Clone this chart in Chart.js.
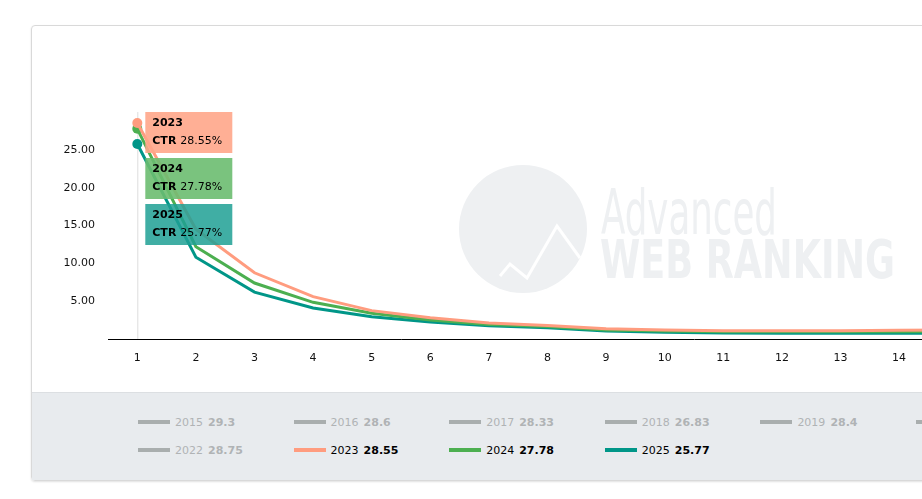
<!DOCTYPE html>
<html>
<head>
<meta charset="UTF-8">
<title>CTR by position</title>
<script src="https://cdn.jsdelivr.net/npm/chart.js@4.4.1/dist/chart.umd.min.js"></script>
<style>
  body { margin: 0; background: #fff; overflow: hidden; font-family: "DejaVu Sans", Verdana, sans-serif; }
  #box { position: absolute; left: 31px; top: 25px; width: 1306px; border: 1px solid #d9d9d9; border-radius: 4px; box-shadow: 0 1px 2px rgba(0,0,0,.12); }
  #chartWrap { position: relative; height: 366px; }
  #legend { background: #e8ebee; border-top: 1px solid #dcdfe2; height: 72px; padding: 15px 0 0 106px; display: flex; flex-wrap: wrap; align-content: flex-start; }
  .item { width: 155.6px; height: 28px; display: flex; align-items: center; font-size: 11px; color: #b0b3b5; }
  .item .sw { width: 32px; height: 4px; background: #a9aeae; margin-right: 5px; }
  .item b { margin-left: 5px; }
  .item.on { color: #000; }
</style>
</head>
<body>

<div id="box">
  <div id="chartWrap"><canvas id="myChart" width="1306" height="366"></canvas></div>
  <div id="legend"></div>
</div>

<script>
  // positions 1..20
  let positions = ['1','2','3','4','5','6','7','8','9','10','11','12','13','14','15','16','17','18','19','20'];

  // CTR (%) per position
  let ctr2023 = [28.55, 14.5, 8.75, 5.6, 3.75, 2.8, 2.1, 1.8, 1.35, 1.2, 1.1, 1.1, 1.1, 1.15, 1.2, 1.2, 1.2, 1.2, 1.2, 1.2];
  let ctr2024 = [27.78, 12.2, 7.4, 4.85, 3.4, 2.5, 1.9, 1.65, 1.2, 1.05, 0.95, 0.95, 0.95, 0.95, 1.0, 1.0, 1.0, 1.0, 1.0, 1.0];
  let ctr2025 = [25.77, 10.8, 6.2, 4.1, 2.95, 2.25, 1.75, 1.5, 1.05, 0.9, 0.78, 0.75, 0.75, 0.75, 0.75, 0.75, 0.75, 0.75, 0.75, 0.75];

  // legend: year and CTR at position 1
  let legendYears = ['2015','2016','2017','2018','2019','2020','2021','2022','2023','2024','2025'];
  let legendCtr   = ['29.3','28.6','28.33','26.83','28.4','28.9','29.1','28.75','28.55','27.78','25.77'];

  let yTicks = [5, 10, 15, 20, 25];
</script>

<script>
  let shown = {
    '2023': { data: ctr2023, line: '#ff9c7f', box: 'rgba(255,166,138,0.9)' },
    '2024': { data: ctr2024, line: '#4caf50', box: 'rgba(108,189,112,0.9)' },
    '2025': { data: ctr2025, line: '#009688', box: 'rgba(30,160,148,0.85)' }
  };

  // html legend
  let lg = document.getElementById('legend');
  legendYears.forEach(function(y, i) {
    let on = shown[y] ? ' on' : '';
    let col = shown[y] ? shown[y].line : '#a9aeae';
    lg.innerHTML += '<div class="item' + on + '"><span class="sw" style="background:' + col + '"></span>' + y + '<b>' + legendCtr[i] + '</b></div>';
  });

  let datasets = [];
  Object.keys(shown).forEach(function(y) {
    datasets.push({
      label: y,
      data: shown[y].data,
      borderColor: shown[y].line,
      backgroundColor: shown[y].line,
      borderWidth: 3,
      tension: 0,
      fill: false,
      pointRadius: function(c) { return c.dataIndex === 0 ? 5 : 0; },
      pointBorderWidth: 0
    });
  });

  // watermark, hover line and the value boxes next to position 1
  let decor = {
    id: 'decor',
    beforeDatasetsDraw: function(chart) {
      let ctx = chart.ctx;
      ctx.save();
      ctx.fillStyle = '#eef0f2';
      ctx.beginPath();
      ctx.arc(491, 203, 64, 0, Math.PI * 2);
      ctx.fill();
      ctx.strokeStyle = '#fff';
      ctx.lineWidth = 3;
      ctx.beginPath();
      ctx.moveTo(468, 250); ctx.lineTo(478, 238); ctx.lineTo(495, 252); ctx.lineTo(525, 200); ctx.lineTo(548, 232);
      ctx.stroke();
      ctx.fillStyle = '#eef0f2';
      ctx.textBaseline = 'alphabetic';
      ctx.font = '300 62px "Liberation Sans Narrow", "DejaVu Sans Condensed", sans-serif';
      ctx.fillText('Advanced', 569, 208, 176);
      ctx.font = 'bold 54px "Liberation Sans Narrow", "DejaVu Sans Condensed", sans-serif';
      ctx.fillText('WEB RANKING', 568, 252, 295);

      let x0 = chart.scales.x.getPixelForValue(0);
      ctx.strokeStyle = '#dddddd';
      ctx.lineWidth = 1;
      ctx.beginPath();
      ctx.moveTo(x0 + 0.5, chart.chartArea.top);
      ctx.lineTo(x0 + 0.5, chart.chartArea.bottom);
      ctx.stroke();
      ctx.restore();
    },
    afterDatasetsDraw: function(chart) {
      let ctx = chart.ctx;
      let x0 = chart.scales.x.getPixelForValue(0) + 8;
      let top = chart.chartArea.top;
      ctx.save();
      Object.keys(shown).forEach(function(y, i) {
        let by = top + i * 46;
        ctx.fillStyle = shown[y].box;
        ctx.fillRect(x0, by, 87, 41);
        ctx.fillStyle = '#000';
        ctx.textBaseline = 'middle';
        ctx.font = 'bold 11px "DejaVu Sans", Verdana, sans-serif';
        ctx.fillText(y, x0 + 7, by + 11);
        ctx.fillText('CTR', x0 + 7, by + 29);
        let w = ctx.measureText('CTR ').width;
        ctx.font = '11px "DejaVu Sans", Verdana, sans-serif';
        ctx.fillText(shown[y].data[0].toFixed(2) + '%', x0 + 7 + w, by + 29);
      });
      ctx.restore();
    }
  };

  new Chart('myChart', {
    type: 'line',
    data: { labels: positions, datasets: datasets },
    options: {
      responsive: false,
      animation: false,
      layout: { padding: { top: 86, right: 58, left: 0, bottom: 0 } },
      plugins: { legend: { display: false }, tooltip: { enabled: false } },
      scales: {
        x: {
          offset: true,
          grid: { display: false, drawTicks: false },
          border: { display: true, color: '#000', width: 1 },
          ticks: { color: '#111', padding: 13, font: { family: 'DejaVu Sans', size: 11 } },
          afterFit: function(s) { s.height = 53; }
        },
        y: {
          min: 0, max: 30,
          grid: { display: false, drawTicks: false },
          border: { display: false },
          afterBuildTicks: function(s) { s.ticks = yTicks.map(function(v) { return { value: v }; }); },
          ticks: {
            color: '#111', padding: 13,
            font: { family: 'DejaVu Sans', size: 11 },
            callback: function(v) { return v.toFixed(2); }
          },
          afterFit: function(s) { s.width = 76; }
        }
      }
    },
    plugins: [decor]
  });
</script>
</body>
</html>
